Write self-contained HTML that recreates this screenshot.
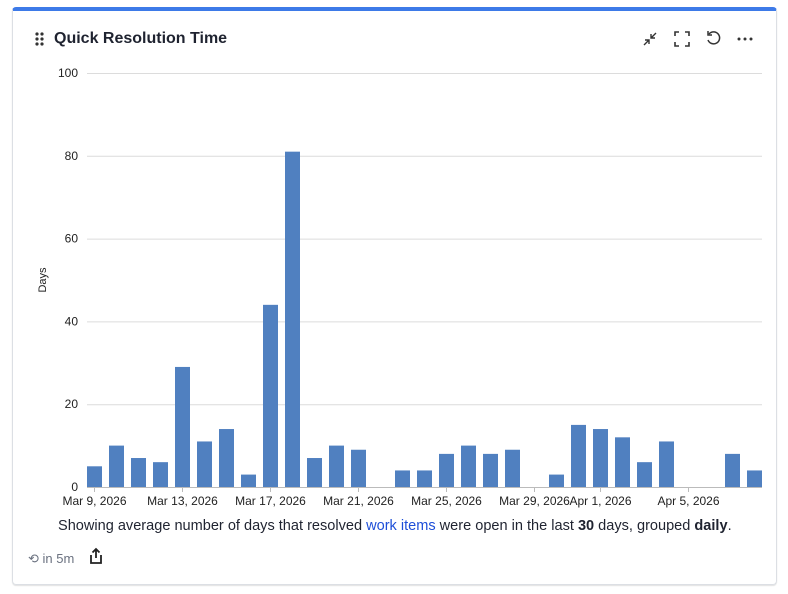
<!DOCTYPE html>
<html><head><meta charset="utf-8"><style>
body{margin:0;width:788px;height:594px;background:#fff;font-family:"Liberation Sans",sans-serif;position:relative;overflow:hidden}
.card{position:absolute;left:12px;top:7px;width:765px;height:578px;border:1px solid #dcdfe4;border-top:4px solid #3d7ae8;border-radius:4px;box-sizing:border-box;box-shadow:0 1px 1px rgba(0,0,0,.12)}
.title{position:absolute;left:54px;top:30px;font-size:16px;font-weight:bold;color:#1f2330}
.cap{position:absolute;left:58px;top:518px;font-size:14.55px;color:#1f2330;white-space:nowrap}
.cap a{color:#1d4ed8;text-decoration:none}
</style></head><body>
<div class="card"></div>
<svg style="position:absolute;left:34px;top:31px" width="12" height="16"><g fill="#333"><circle cx="3" cy="3" r="1.6"/><circle cx="8" cy="3" r="1.6"/><circle cx="3" cy="8" r="1.6"/><circle cx="8" cy="8" r="1.6"/><circle cx="3" cy="13" r="1.6"/><circle cx="8" cy="13" r="1.6"/></g></svg>
<div class="title">Quick Resolution Time</div>
<svg style="position:absolute;left:642px;top:31px" width="16" height="16"><g stroke="#333" stroke-width="1.4" fill="none"><path d="M2 14L7 9M3 9H7V13M14 2L9 7M9 3V7H13"/></g></svg>
<svg style="position:absolute;left:674px;top:31px" width="16" height="16"><g stroke="#333" stroke-width="1.6" fill="none"><path d="M1 5V1H5M11 1H15V5M15 11V15H11M5 15H1V11"/></g></svg>
<svg style="position:absolute;left:705px;top:30px" width="17" height="17"><g stroke="#333" stroke-width="1.5" fill="none"><path d="M4 4A6 6 0 1 1 3 10"/><path d="M3 1V5H7"/></g></svg>
<svg style="position:absolute;left:736px;top:36px" width="18" height="6"><g fill="#333"><circle cx="3" cy="3" r="1.5"/><circle cx="9" cy="3" r="1.5"/><circle cx="15" cy="3" r="1.5"/></g></svg>
<svg id="chart" style="position:absolute;left:0;top:0" width="788" height="510"></svg>
<div class="cap">Showing average number of days that resolved <a href="#">work items</a> were open in the last <b>30</b> days, grouped <b>daily</b>.</div>
<div style="position:absolute;left:28px;top:551px;font-size:13px;color:#6b7280">⟲ in 5m</div>
<svg style="position:absolute;left:89px;top:547px" width="14" height="18"><g stroke="#222" stroke-width="1.8" fill="none"><path d="M7 2V11M3.5 5.5L7 2L10.5 5.5M2 8V16H12V8"/></g></svg>
<script>
const categories=["Mar 9","Mar 10","Mar 11","Mar 12","Mar 13","Mar 14","Mar 15","Mar 16","Mar 17","Mar 18","Mar 19","Mar 20","Mar 21","Mar 22","Mar 23","Mar 24","Mar 25","Mar 26","Mar 27","Mar 28","Mar 29","Mar 30","Mar 31","Apr 1","Apr 2","Apr 3","Apr 4","Apr 5","Apr 6","Apr 7","Apr 8"];
const values=[5,10,7,6,29,11,14,3,44,81,7,10,9,0,4,4,8,10,8,9,0,3,15,14,12,6,11,0,0,8,4];
const yTicks=[0,20,40,60,80,100];
const xLabelIdx=[0,4,8,12,16,20,23,27];
const xLabels=["Mar 9, 2026","Mar 13, 2026","Mar 17, 2026","Mar 21, 2026","Mar 25, 2026","Mar 29, 2026","Apr 1, 2026","Apr 5, 2026"];
const svg=document.getElementById('chart');const NS='http://www.w3.org/2000/svg';
const x0=83.5,step=22,bw=15,yb=487,yt=73;
const y=v=>yb-(v/100)*(yb-yt);
const xc=i=>x0+step/2+i*step;
function mk(t,a){const e=document.createElementNS(NS,t);for(const k in a)e.setAttribute(k,a[k]);svg.appendChild(e);return e;}
yTicks.forEach(v=>{
 const l=mk('line',{x1:87,x2:762,y1:y(v)+.5,y2:y(v)+.5,stroke:v?'#dcdcdc':'#bbb'});
 
 
 const t=mk('text',{x:78,y:y(v)+4,'text-anchor':'end','font-size':12,fill:'#222','font-family':'Liberation Sans'});t.textContent=v;
 
 
});
values.forEach((v,i)=>{
 const r=mk('rect',{x:xc(i)-bw/2,y:y(v),width:bw,height:yb-y(v),fill:'#5080c0'});
 
 
});
xLabelIdx.forEach((idx,k)=>{
 mk('line',{x1:xc(idx),x2:xc(idx),y1:487,y2:492,stroke:'#bbb'});
 const t=mk('text',{x:xc(idx),y:505,'text-anchor':'middle','font-size':12,fill:'#222','font-family':'Liberation Sans'});t.textContent=xLabels[k];
 
 
});
const yt2=mk('text',{x:0,y:0,transform:'translate(46,280) rotate(-90)','text-anchor':'middle','font-size':11,fill:'#222','font-family':'Liberation Sans'});yt2.textContent='Days';


</script>
</body></html>
